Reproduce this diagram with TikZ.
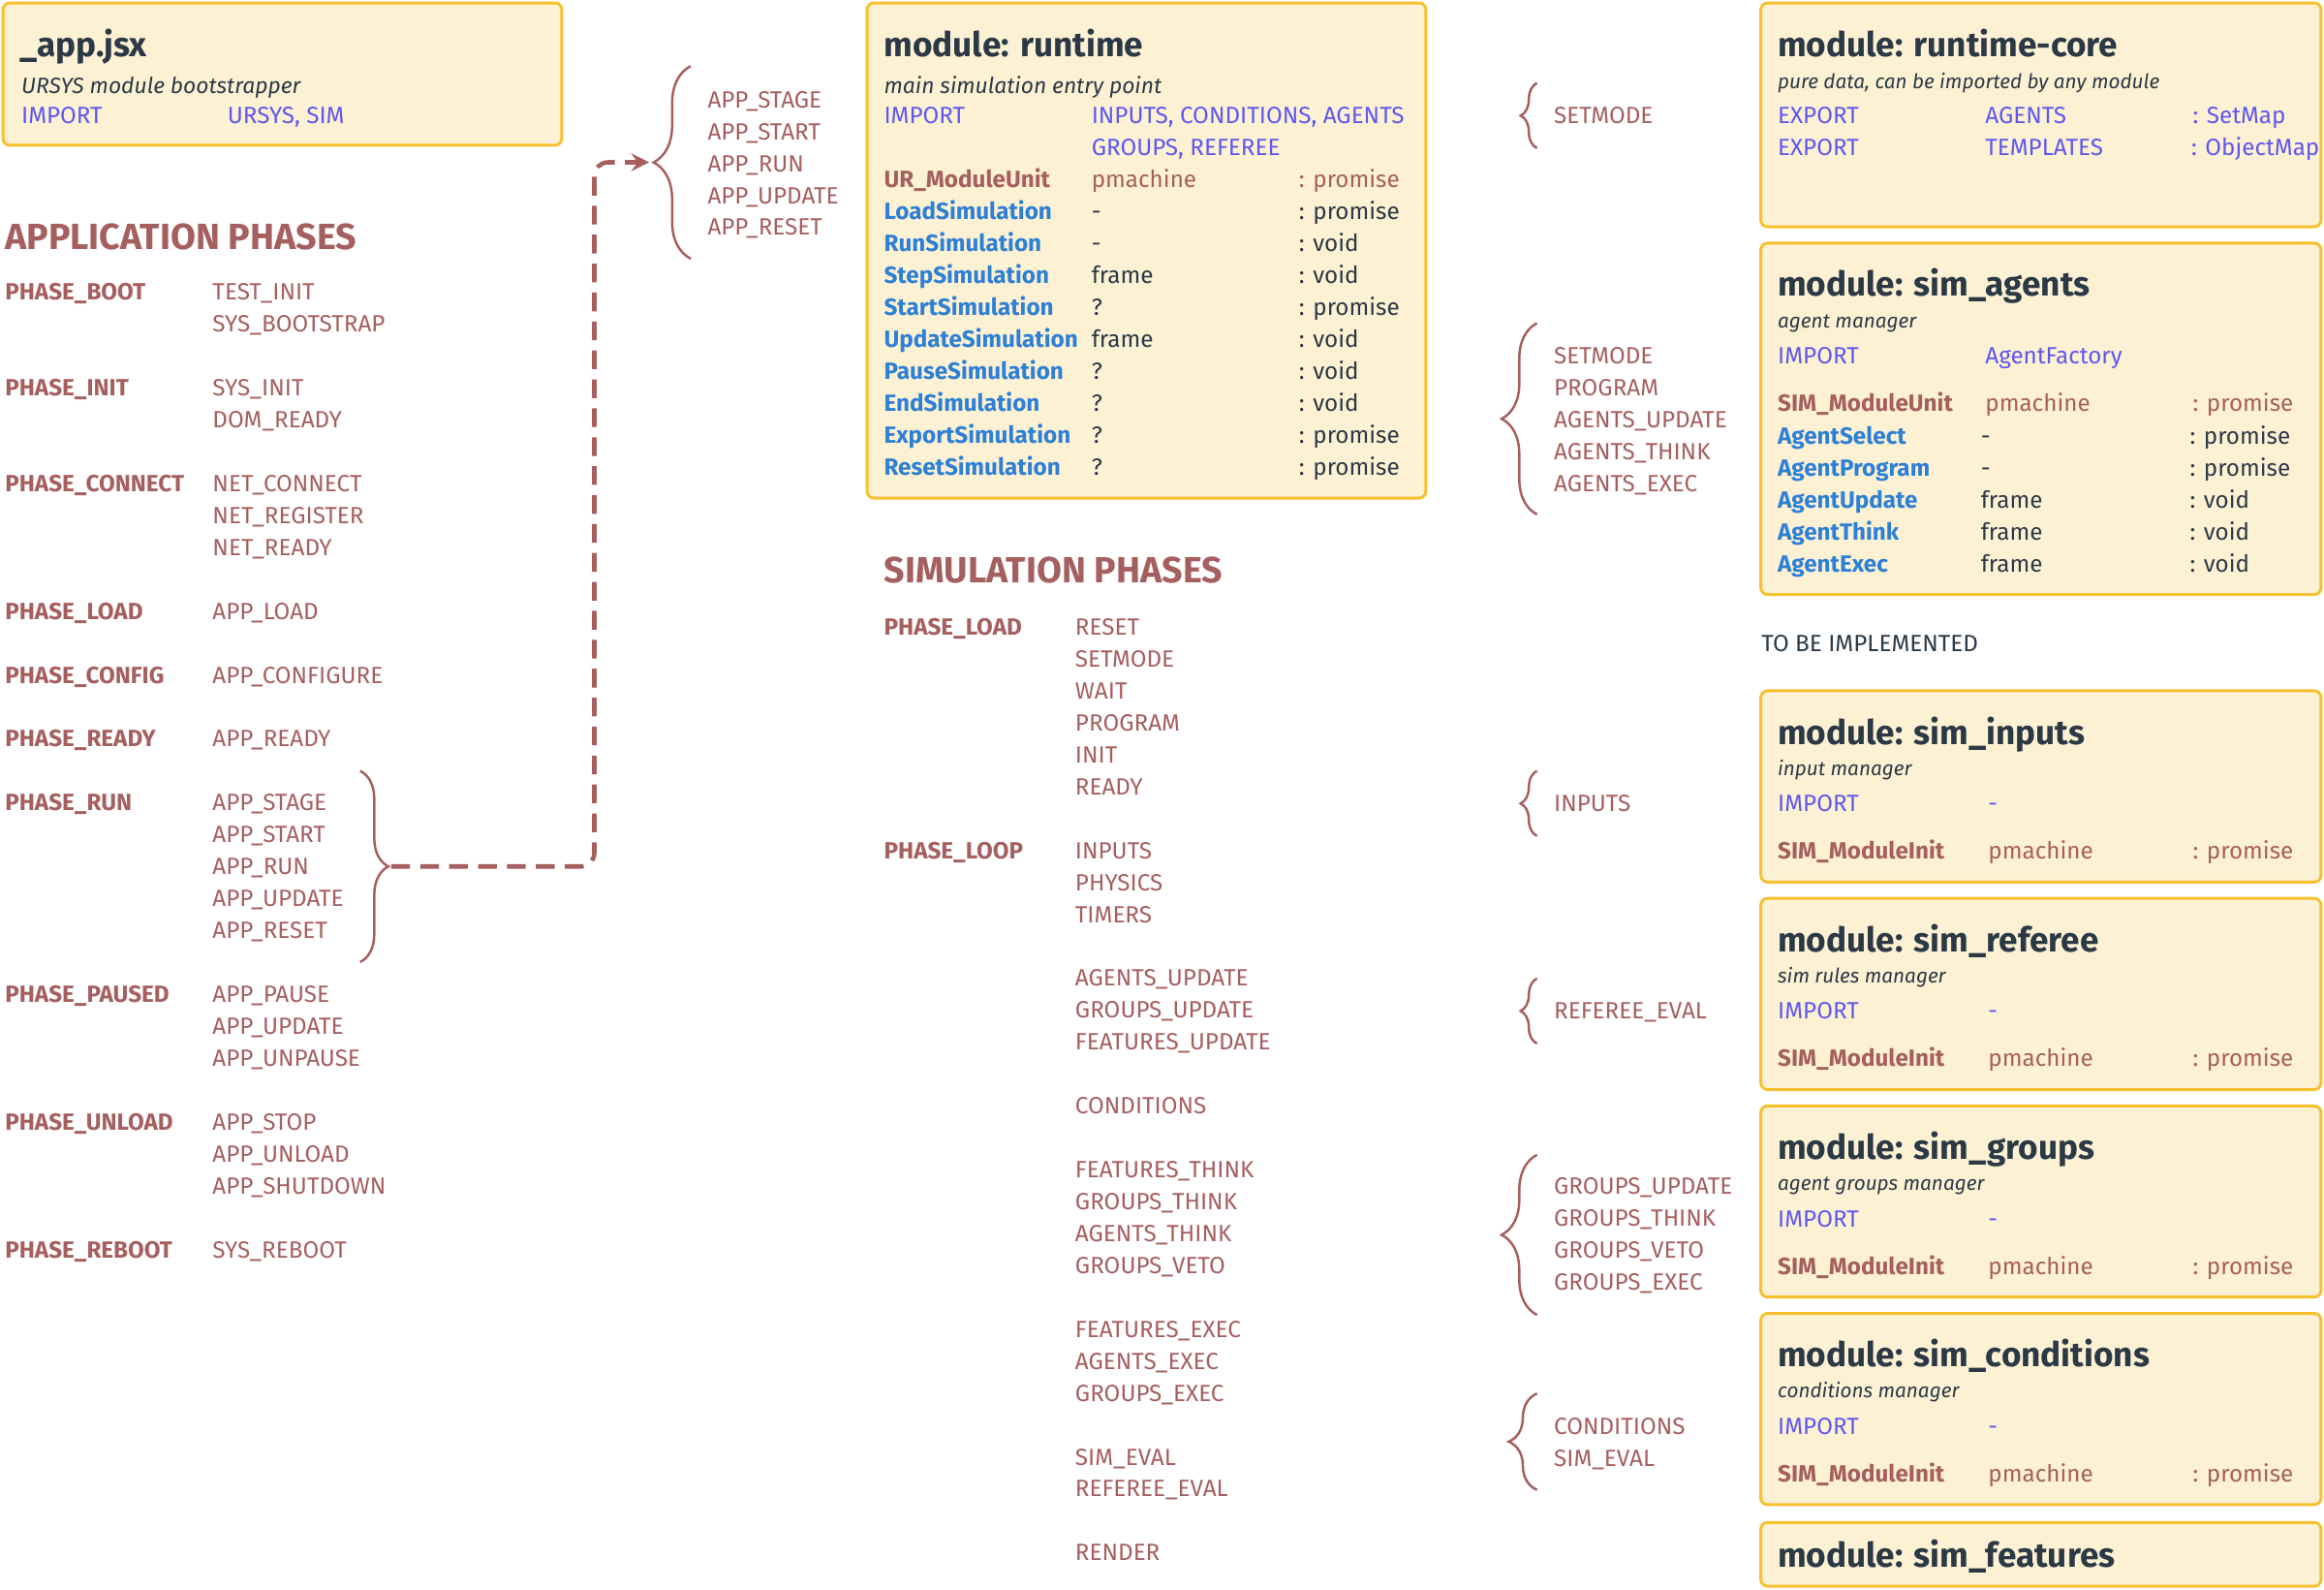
\documentclass[tikz,border=0pt]{standalone}
\usepackage{fontspec}
\setmainfont{Fira Sans}
\usetikzlibrary{positioning,fit,calc,decorations.pathreplacing}

\definecolor{modfill}{HTML}{FDF1D3}
\definecolor{modline}{HTML}{F7C02F}
\definecolor{phasered}{HTML}{A65F5F}
\definecolor{importblue}{HTML}{5F57F0}
\definecolor{fnblue}{HTML}{2D80D6}
\definecolor{inkdark}{HTML}{2B3947}

\begin{document}
\begin{tikzpicture}[
    x=0.0153cm, y=-0.0153cm,
    modbox/.style={draw=modline, fill=modfill, line width=0.85pt, rounded corners=2pt, inner sep=0pt},
    txt/.style={anchor=base west, inner sep=0pt, font=\fontsize{6.9}{8}\selectfont},
    phase/.style={txt, text=phasered, font=\fontsize{6.9}{8}\selectfont\bfseries},
    evt/.style={txt, text=phasered},
    imp/.style={txt, text=importblue},
    fn/.style={txt, text=fnblue, font=\fontsize{6.9}{8}\selectfont\bfseries},
    val/.style={txt, text=inkdark},
    title/.style={txt, text=inkdark, font=\fontsize{10}{12}\selectfont\bfseries},
    sub/.style={txt, text=inkdark, font=\fontsize{6.5}{8}\selectfont\itshape},
    smallsub/.style={txt, text=inkdark, font=\fontsize{5.9}{7}\selectfont\itshape},
    heading/.style={txt, text=phasered, font=\fontsize{10.7}{12}\selectfont\bfseries},
    bracket/.style={draw=phasered, line width=0.7pt, decorate, decoration={brace, amplitude=#1}},
    flow/.style={draw=phasered, line width=1.3pt, dash pattern=on 5.5pt off 3pt, rounded corners=4pt, ->, >=stealth}
]
    \fill[white] (0,0) rectangle (1568,1072);
    \useasboundingbox (0,0) rectangle (1568,1072);

    % module boxes
    \node[modbox, fit={(2,2) (379,98)}] (appbox) {};
    \node[modbox, fit={(585,2) (962,336)}] (runbox) {};
    \node[modbox, fit={(1188,2) (1566,153)}] (corebox) {};
    \node[modbox, fit={(1188,164) (1566,401)}] (agentbox) {};
    \node[modbox, fit={(1188,1027) (1566,1070)}] (featbox) {};

    % _app.jsx
    \node[title] (app-title) at (13,38) {\_app.jsx};
    \node[sub] (app-sub) at (14,63) {URSYS module bootstrapper};
    \node[imp] (app-imp) at (14,83.5) {IMPORT};
    \node[imp] (app-list) at (153,83.5) {URSYS, SIM};

    % application phases
    \node[heading] (apphead) at (3,168) {APPLICATION PHASES};
    \foreach \n/\ph in {0/BOOT, 3/INIT, 6/CONNECT, 10/LOAD, 12/CONFIG, 14/READY, 16/RUN, 22/PAUSED, 26/UNLOAD, 30/REBOOT}
        \node[phase] (ap-\n) at (3, 202.5+21.53*\n) {PHASE\_\ph};
    \foreach \n/\ev in {0/TEST\_INIT, 1/SYS\_BOOTSTRAP, 3/SYS\_INIT, 4/DOM\_READY, 6/NET\_CONNECT, 7/NET\_REGISTER, 8/NET\_READY, 10/APP\_LOAD, 12/APP\_CONFIGURE, 14/APP\_READY, 16/APP\_STAGE, 17/APP\_START, 18/APP\_RUN, 19/APP\_UPDATE, 20/APP\_RESET, 22/APP\_PAUSE, 23/APP\_UPDATE, 24/APP\_UNPAUSE, 26/APP\_STOP, 27/APP\_UNLOAD, 28/APP\_SHUTDOWN, 30/SYS\_REBOOT}
        \node[evt] (ae-\n) at (143, 202.5+21.53*\n) {\ev};

    % run phase brace and loop back
    \coordinate (runtop) at (243,520);
    \coordinate (runbot) at (243,649);
    \coordinate (runtip) at (264,584.5);
    \coordinate (stagetop) at (466,44.6);
    \coordinate (stagebot) at (466,174.5);
    \coordinate (bend) at (401,109.5);
    \coordinate (apptip) at (438,109.5);
    \draw[bracket=8.3pt] (runtop) -- (runbot);
    \draw[bracket=10.9pt] (stagebot) -- (stagetop);
    \draw[flow] (runtip) -| (bend) -- (apptip);
    \foreach \n/\ev in {0/APP\_STAGE, 1/APP\_START, 2/APP\_RUN, 3/APP\_UPDATE, 4/APP\_RESET}
        \node[evt] (ts-\n) at (477, 72.8+21.5*\n) {\ev};

    % module: runtime
    \node[title] (rt-title) at (596,38) {module: runtime};
    \node[sub] (rt-sub) at (596,63) {main simulation entry point};
    \node[imp] (rt-imp) at (596,83.5) {IMPORT};
    \node[imp] (rt-list) at (736,83.5) {INPUTS, CONDITIONS, AGENTS};
    \node[imp] (rt-list2) at (736,105) {GROUPS, REFEREE};
    \node[phase] (rt-unit) at (596,126.6) {UR\_ModuleUnit};
    \node[evt] (rt-unitarg) at (736,126.6) {pmachine};
    \node[evt] (rt-unitret) at (876,126.6) {: promise};
    \foreach \n/\fname/\farg/\fret in {3/Load/-/promise, 4/Run/-/void, 5/Step/frame/void, 6/Start/?/promise, 7/Update/frame/void, 8/Pause/?/void, 9/End/?/void, 10/Export/?/promise, 11/Reset/?/promise} {
        \node[fn] (rt-fn\n) at (596, 83.5+21.55*\n) {\fname Simulation};
        \node[val] (rt-arg\n) at (736, 83.5+21.55*\n) {\farg};
        \node[val] (rt-ret\n) at (876, 83.5+21.55*\n) {: \fret};
    }

    % simulation phases
    \node[heading] (simhead) at (596,393) {SIMULATION PHASES};
    \node[phase] (sp-0) at (596,428.5) {PHASE\_LOAD};
    \node[phase] (sp-7) at (596,428.5+7*21.53) {PHASE\_LOOP};
    \foreach \n/\ev in {0/RESET, 1/SETMODE, 2/WAIT, 3/PROGRAM, 4/INIT, 5/READY, 7/INPUTS, 8/PHYSICS, 9/TIMERS, 11/AGENTS\_UPDATE, 12/GROUPS\_UPDATE, 13/FEATURES\_UPDATE, 15/CONDITIONS, 17/FEATURES\_THINK, 18/GROUPS\_THINK, 19/AGENTS\_THINK, 20/GROUPS\_VETO, 22/FEATURES\_EXEC, 23/AGENTS\_EXEC, 24/GROUPS\_EXEC, 26/SIM\_EVAL, 27/REFEREE\_EVAL, 29/RENDER}
        \node[evt] (se-\n) at (725, 428.5+21.53*\n) {\ev};

    % braces towards the modules
    \draw[bracket=4.8pt] (1037,100) -- (1037,56);
    \node[evt] (br-setmode) at (1048,83.5) {SETMODE};
    \draw[bracket=10.4pt] (1037,347) -- (1037,218);
    \foreach \n/\ev in {0/SETMODE, 1/PROGRAM, 2/AGENTS\_UPDATE, 3/AGENTS\_THINK, 4/AGENTS\_EXEC}
        \node[evt] (br-ag\n) at (1048, 245.5+21.5*\n) {\ev};
    \draw[bracket=4.8pt] (1037,564) -- (1037,520);
    \node[evt] (br-inputs) at (1048,547.5) {INPUTS};
    \draw[bracket=4.8pt] (1037,704) -- (1037,660);
    \node[evt] (br-referee) at (1048,687.5) {REFEREE\_EVAL};
    \draw[bracket=10.4pt] (1037,887) -- (1037,779);
    \foreach \n/\ev in {0/GROUPS\_UPDATE, 1/GROUPS\_THINK, 2/GROUPS\_VETO, 3/GROUPS\_EXEC}
        \node[evt] (br-gr\n) at (1048, 805.5+21.6*\n) {\ev};
    \draw[bracket=8.3pt] (1037,1005) -- (1037,940);
    \node[evt] (br-cond0) at (1048,967.5) {CONDITIONS};
    \node[evt] (br-cond1) at (1048,989) {SIM\_EVAL};

    % module: runtime-core
    \node[title] (core-title) at (1199,38) {module: runtime-core};
    \node[smallsub] (core-sub) at (1199,60) {pure data, can be imported by any module};
    \node[imp] (core-exp0) at (1199,83.5) {EXPORT};
    \node[imp] (core-name0) at (1339,83.5) {AGENTS};
    \node[imp] (core-type0) at (1479,83.5) {: SetMap};
    \node[imp] (core-exp1) at (1199,105) {EXPORT};
    \node[imp] (core-name1) at (1339,105) {TEMPLATES};
    \node[imp] (core-type1) at (1478,105) {: ObjectMap};

    % module: sim_agents
    \node[title] (ag-title) at (1199,200) {module: sim\_agents};
    \node[smallsub] (ag-sub) at (1199,221) {agent manager};
    \node[imp] (ag-imp) at (1199,245.5) {IMPORT};
    \node[imp] (ag-factory) at (1339,245.5) {AgentFactory};
    \node[phase] (ag-unit) at (1199,277.5) {SIM\_ModuleUnit};
    \node[evt] (ag-unitarg) at (1339,277.5) {pmachine};
    \node[evt] (ag-unitret) at (1479,277.5) {: promise};
    \foreach \n/\fname/\farg/\fret in {0/Select/-/promise, 1/Program/-/promise, 2/Update/frame/void, 3/Think/frame/void, 4/Exec/frame/void} {
        \node[fn] (ag-fn\n) at (1199, 299.5+21.6*\n) {Agent\fname};
        \node[val] (ag-arg\n) at (1336, 299.5+21.6*\n) {\farg};
        \node[val] (ag-ret\n) at (1477, 299.5+21.6*\n) {: \fret};
    }

    \node[val] (todo) at (1188,439.5) {TO BE IMPLEMENTED};

    % modules still to be implemented
    \foreach \key/\desc/\yt in {inputs/input manager/466, referee/sim rules manager/606, groups/agent groups manager/746, conditions/conditions manager/886} {
        \node[modbox, fit={(1188,\yt) (1566,\yt+129)}] (\key-box) {};
        \node[title] (\key-title) at (1199,\yt+36) {module: sim\_\key};
        \node[smallsub] (\key-sub) at (1199,\yt+57) {\desc};
        \node[imp] (\key-imp) at (1199,\yt+81.5) {IMPORT};
        \node[imp] (\key-dash) at (1341,\yt+81.5) {-};
        \node[phase] (\key-init) at (1199,\yt+113.5) {SIM\_ModuleInit};
        \node[evt] (\key-arg) at (1341,\yt+113.5) {pmachine};
        \node[evt] (\key-ret) at (1479,\yt+113.5) {: promise};
    }
    \node[title] (feat-title) at (1199,1057) {module: sim\_features};
\end{tikzpicture}
\end{document}
